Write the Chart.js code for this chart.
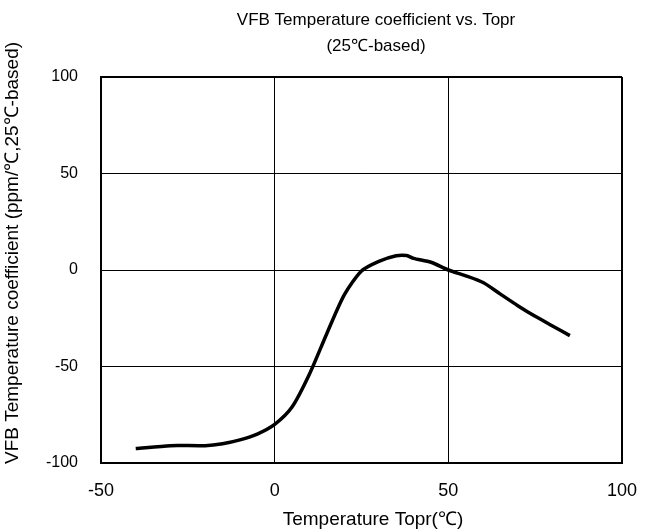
<!DOCTYPE html>
<html>
<head>
<meta charset="utf-8">
<script src="https://cdn.jsdelivr.net/npm/chart.js@4"></script>
<style>
  html, body { margin: 0; padding: 0; background: #fff; }
  #wrap { width: 654px; height: 532px; }
</style>
</head>
<body>
<div id="wrap"><canvas id="mycanvas"></canvas></div>
<script>
// values
var temps = [-40, -30, -20, -15, -10, -5, 0, 5, 10, 15, 20, 25, 30, 35, 38, 40, 45, 50, 55, 60, 65, 70, 75, 80, 85];
var coefs = [-92.5, -91, -91, -90, -88, -85, -80, -71, -54, -33, -13, -0.5, 4.5, 7.4, 7.5, 6, 4, 0, -3, -6.5, -12.5, -18.5, -24, -29, -34];
var xTicks = [-50, 0, 50, 100];
var yTicks = [-100, -50, 0, 50, 100];
var titleLines = ['VFB Temperature coefficient vs. Topr', '(25\u2103-based)'];
var xTitle = 'Temperature Topr(\u2103)';
var yTitle = 'VFB Temperature coefficient (ppm/\u2103,25\u2103-based)';

var font = "'Liberation Sans', Arial, sans-serif";

var points = [];
for (var i in temps) {
	points.push({x: temps[i], y: coefs[i]});
}

// titles drawn by hand so they can sit where the reference has them
var textPlugin = {
	id: 'texts',
	afterDraw: function(chart) {
		var c = chart.ctx;
		c.save();
		c.fillStyle = '#000';
		c.textAlign = 'center';
		c.textBaseline = 'middle';
		c.font = '17px ' + font;
		c.fillText(titleLines[0], 376, 20);
		c.fillText(titleLines[1], 376, 46);
		c.font = '19px ' + font;
		c.fillText(xTitle, 373, 520);
		c.translate(13, 253);
		c.rotate(-Math.PI / 2);
		c.fillText(yTitle, 0, 0);
		c.restore();
	}
};

var edge = function(lo, hi) {
	return function(ctx) {
		var t = ctx.tick ? ctx.tick.value : null;
		return (t === lo || t === hi) ? 2 : 1;
	};
};

new Chart(document.getElementById('mycanvas'), {
	type: 'line',
	data: {
		datasets: [{
			data: points,
			borderColor: '#000',
			borderWidth: 3.5,
			pointRadius: 0,
			tension: 0.25,
			fill: false
		}]
	},
	options: {
		responsive: true,
		maintainAspectRatio: false,
		animation: false,
		layout: { padding: { top: 77, right: 31, bottom: 0, left: 0 } },
		plugins: { legend: { display: false }, tooltip: { enabled: false } },
		scales: {
			x: {
				type: 'linear',
				min: -50, max: 100,
				afterBuildTicks: function(s) { s.ticks = xTicks.map(function(v) { return {value: v}; }); },
				afterFit: function(s) { s.height = 69; },
				grid: { color: '#000', lineWidth: edge(-50, 100), drawTicks: false },
				border: { color: '#000', width: 2 },
				ticks: { color: '#000', font: { family: font, size: 18 }, padding: 17, maxRotation: 0 }
			},
			y: {
				min: -100, max: 100,
				afterBuildTicks: function(s) { s.ticks = yTicks.map(function(v) { return {value: v}; }); },
				afterFit: function(s) { s.width = 101; },
				grid: { color: '#000', lineWidth: edge(-100, 100), drawTicks: false },
				border: { color: '#000', width: 2 },
				ticks: { color: '#000', font: { family: font, size: 16 }, padding: 23 }
			}
		}
	},
	plugins: [textPlugin]
});
</script>
</body>
</html>
